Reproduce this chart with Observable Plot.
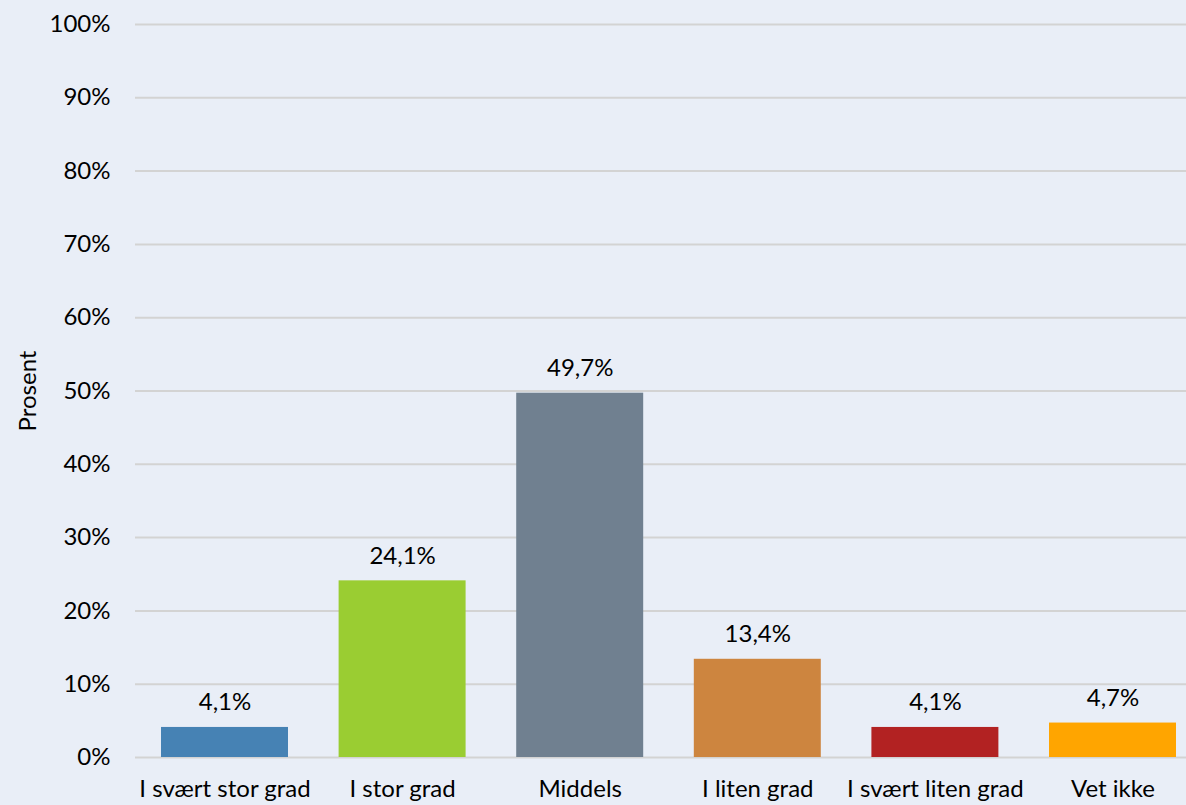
<!DOCTYPE html>
<html>
<head>
<meta charset="utf-8">
<script src="https://cdn.jsdelivr.net/npm/d3@7"></script>
<script src="https://cdn.jsdelivr.net/npm/@observablehq/plot@0.6"></script>
<style>
  html, body { margin: 0; padding: 0; background: #E9EEF7; }
  #chart svg { display: block; }
</style>
</head>
<body>
<div id="chart"></div>
<script>
const categories = ["I svært stor grad", "I stor grad", "Middels", "I liten grad", "I svært liten grad", "Vet ikke"];
const values = [4.1, 24.1, 49.7, 13.4, 4.1, 4.7];
const colors = ["#4682B4", "#9ACD32", "#708090", "#CD853F", "#B22222", "#FFA500"];
const yTicks = [0, 10, 20, 30, 40, 50, 60, 70, 80, 90, 100];

const data = categories.map((c, i) => ({category: c, value: values[i]}));
const fmt = v => v.toFixed(1).replace(".", ",") + "%";

const chart = Plot.plot({
  width: 1186,
  height: 805,
  marginTop: 24,
  marginBottom: 48,
  marginLeft: 135,
  marginRight: 0,
  style: {background: "#E9EEF7", fontFamily: "Lato, 'Open Sans', sans-serif", fontSize: "24px", color: "#000"},
  x: {domain: categories, range: [135.7, 1201.3], round: false, paddingInner: 0.285, paddingOuter: 0.1425, label: null},
  y: {domain: [0, 100], label: "Prosent"},
  color: {domain: categories, range: colors},
  marks: [
    Plot.ruleY(yTicks, {stroke: "#D3D3D3", strokeWidth: 2}),
    Plot.barY(data, {x: "category", y: "value", fill: "category"}),
    Plot.text(data, {x: "category", y: "value", text: d => fmt(d.value), dy: -17, lineAnchor: "bottom", fill: "#000", fontSize: 24}),
    Plot.axisY({ticks: yTicks, tickFormat: d => d + "%", tickSize: 0, tickPadding: 25, fontSize: 24, label: "Prosent", labelAnchor: "center", labelOffset: 117, labelArrow: "none"}),
    Plot.axisX({tickSize: 0, tickPadding: 22, fontSize: 24, label: null})
  ]
});
document.getElementById("chart").appendChild(chart);
</script>
</body>
</html>
